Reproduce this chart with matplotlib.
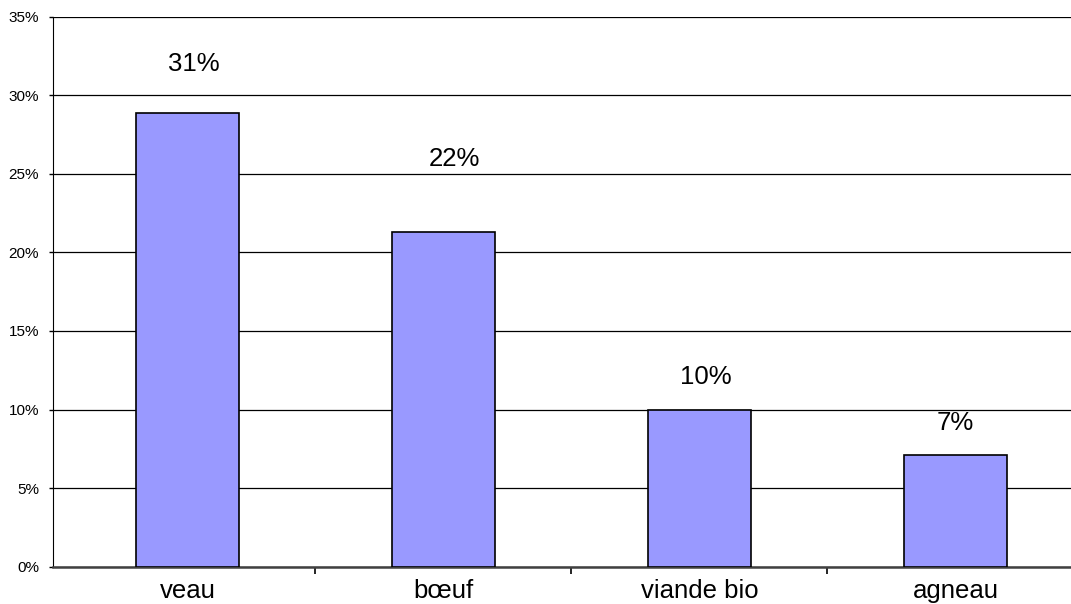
import matplotlib.pyplot as plt

plt.rcParams['font.family'] = ['Liberation Sans', 'DejaVu Sans']

# Données
categories = ['veau', 'bœuf', 'viande bio', 'agneau']
values = [28.9, 21.3, 10.0, 7.1]
labels = ['31%', '22%', '10%', '7%']
yticks = [0, 5, 10, 15, 20, 25, 30, 35]

# décalage des étiquettes (pixels)
label_dx = [6, 11, 6, 0]
label_dy = [49, 73, 33, 32]

fig = plt.figure(figsize=(10.71, 6.04), dpi=100)
ax = fig.add_axes([53 / 1071, 37.3 / 604, 1024 / 1071, 550 / 604])

x = range(len(categories))
bars = ax.bar(x, values, width=0.40, color='#9999FF', edgecolor='black',
              linewidth=1.2, zorder=3)

for b, lab, dx, dy in zip(bars, labels, label_dx, label_dy):
    ax.annotate(lab, (b.get_x() + b.get_width() / 2, b.get_height()),
                xytext=(dx, dy), textcoords='offset pixels',
                ha='center', va='center', fontsize=18.5)

ax.set_xlim(-0.525, 3.475)
ax.set_ylim(0, 35)
ax.set_yticks(yticks)
ax.set_yticklabels([f'{t}%' for t in yticks], fontsize=11)
ax.grid(axis='y', color='black', linewidth=0.9, zorder=0)

# catégories entre les graduations
ax.set_xticks([0.5, 1.5, 2.5])
ax.set_xticklabels([])
ax.set_xticks(list(x), minor=True)
ax.set_xticklabels(categories, minor=True, fontsize=18.5)
ax.tick_params(axis='x', which='major', length=5, width=1.2, color='black')
ax.tick_params(axis='x', which='minor', length=0, pad=9)
ax.tick_params(axis='y', length=3, width=1, pad=7)

for s in ['top', 'right']:
    ax.spines[s].set_visible(False)
ax.spines['left'].set_color('black')
ax.spines['bottom'].set_color('#404040')
ax.spines['bottom'].set_linewidth(1.8)

fig.savefig('out.png', dpi=100)
